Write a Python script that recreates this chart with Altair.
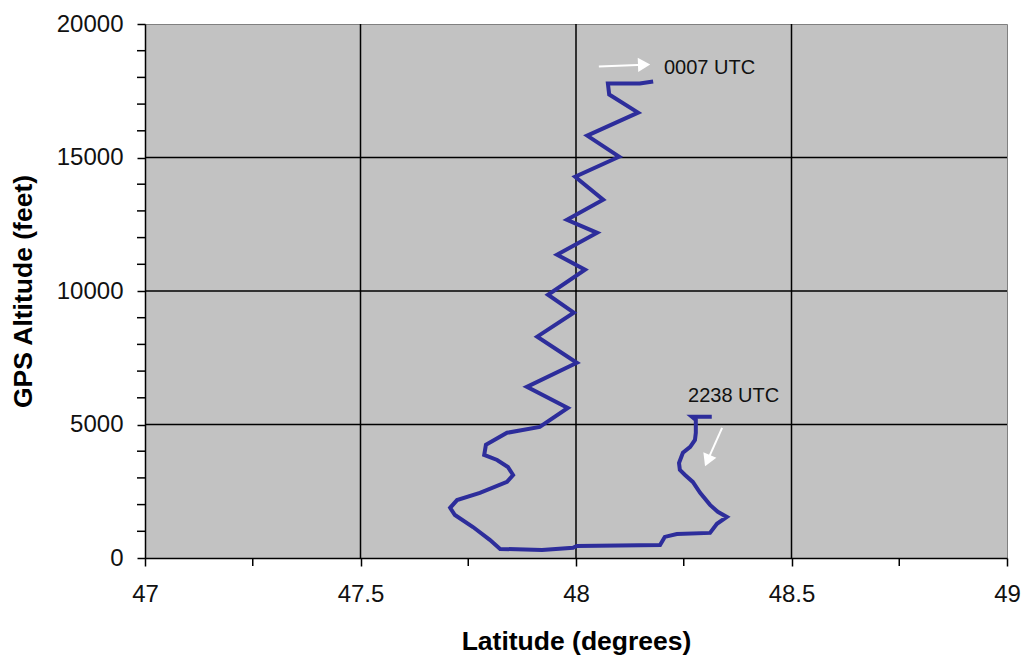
import altair as alt
import pandas as pd

# Flight track, from the 2238 UTC start to the 0007 UTC end
lat = [48.315, 48.269, 48.278, 48.278, 48.276, 48.265, 48.248, 48.239, 48.241,
       48.253, 48.271, 48.288, 48.311, 48.329, 48.350, 48.327, 48.311, 48.234,
       48.206, 48.195, 48.002, 47.993, 47.921, 47.824, 47.800, 47.761, 47.719,
       47.708, 47.724, 47.777, 47.840, 47.854, 47.842, 47.817, 47.787, 47.791,
       47.840, 47.916, 47.981, 47.886, 48.002, 47.910, 47.995, 47.935, 48.021,
       47.956, 48.049, 47.979, 48.063, 47.998, 48.100, 48.026, 48.144, 48.077,
       48.074, 48.148, 48.179]
altitude = [5290, 5290, 5170, 4690, 4420, 4160, 3940, 3560, 3300,
            3110, 2850, 2440, 1990, 1730, 1540, 1280, 940, 900,
            790, 490, 450, 380, 300, 340, 680, 1160, 1610,
            1880, 2170, 2440, 2850, 3110, 3410, 3670, 3860, 4240,
            4690, 4910, 5620, 6410, 7310, 8290, 9190, 9860, 10800,
            11360, 12180, 12670, 13420, 14280, 15030, 15820, 16680, 17360,
            17770, 17770, 17850]

# Labelled axis values, minor tick positions and grid lines
x_major = [47, 47.5, 48, 48.5, 49]
y_major = [0, 5000, 10000, 15000, 20000]
x_minor = [47.25, 47.75, 48.25, 48.75]
y_minor = [1000, 2000, 3000, 4000, 6000, 7000, 8000, 9000,
           11000, 12000, 13000, 14000, 16000, 17000, 18000, 19000]
x_grid = [47.5, 48, 48.5]
y_grid = [5000, 10000, 15000]

# Time labels and their white arrows
label_text = ["0007 UTC", "2238 UTC"]
label_lat = [48.204, 48.260]
label_alt = [18370, 6073]
arrow_lat = [48.053, 48.339]
arrow_alt = [18408, 4874]
arrow_lat2 = [48.158, 48.305]
arrow_alt2 = [18478, 3650]
arrow_angle = [88, 203]

FONT = "Liberation Sans"
TICK = 8

track = pd.DataFrame({"seq": list(range(len(lat))), "lat": lat, "alt": altitude})
labels = pd.DataFrame({"text": label_text, "lat": label_lat, "alt": label_alt})
arrows = pd.DataFrame({"lat": arrow_lat, "alt": arrow_alt,
                       "lat2": arrow_lat2, "alt2": arrow_alt2, "angle": arrow_angle})

xs = alt.Scale(domain=[47, 49], nice=False, zero=False)
ys = alt.Scale(domain=[0, 20000], nice=False)

x_axis = alt.Axis(
    values=x_major, grid=False, title="Latitude (degrees)",
    labelExpr="format(datum.value, '~g')",
    labelFlush=False, labelOverlap=False, labelPadding=16,
    titlePadding=22,
)
y_axis = alt.Axis(
    values=y_major, grid=False, title="GPS Altitude (feet)",
    labelExpr="format(datum.value, 'd')",
    labelFlush=False, labelOverlap=False, labelPadding=14,
    titlePadding=19,
)

base = alt.Chart(track).mark_line(
    color="#2d2d9b", strokeWidth=4, strokeJoin="miter", interpolate="linear"
).encode(
    x=alt.X("lat:Q", scale=xs, axis=x_axis),
    y=alt.Y("alt:Q", scale=ys, axis=y_axis),
    order="seq:Q",
)

vgrid = alt.Chart(pd.DataFrame({"v": x_grid})).mark_rule(
    color="black", strokeWidth=1.5
).encode(x=alt.X("v:Q", scale=xs))
hgrid = alt.Chart(pd.DataFrame({"v": y_grid})).mark_rule(
    color="black", strokeWidth=1.5
).encode(y=alt.Y("v:Q", scale=ys))

# minor ticks, outside the plot area like the major ones
xminor = alt.Chart(pd.DataFrame({"v": x_minor})).mark_rule(
    color="black", strokeWidth=1.5, clip=False
).encode(x=alt.X("v:Q", scale=xs), y=alt.value(534), y2=alt.value(534 + TICK))
yminor = alt.Chart(pd.DataFrame({"v": y_minor})).mark_rule(
    color="black", strokeWidth=1.5, clip=False
).encode(y=alt.Y("v:Q", scale=ys), x=alt.value(-TICK), x2=alt.value(0))

arrow_shaft = alt.Chart(arrows).mark_rule(color="white", strokeWidth=2).encode(
    x=alt.X("lat:Q", scale=xs), y=alt.Y("alt:Q", scale=ys),
    x2="lat2:Q", y2="alt2:Q",
)
arrow_head = alt.Chart(arrows).mark_point(
    shape="triangle-up", filled=True, color="white", opacity=1, size=200
).encode(
    x=alt.X("lat2:Q", scale=xs), y=alt.Y("alt2:Q", scale=ys),
    angle=alt.Angle("angle:Q", scale=None),
)

text = alt.Chart(labels).mark_text(
    align="left", baseline="middle", font=FONT, fontSize=20, color="#111111"
).encode(x=alt.X("lat:Q", scale=xs), y=alt.Y("alt:Q", scale=ys), text="text:N")

chart = alt.layer(
    vgrid, hgrid, xminor, yminor, base, arrow_shaft, arrow_head, text
).properties(
    width=862, height=534,
    autosize="none",
    padding={"left": 145, "top": 24, "right": 14, "bottom": 100},
    background="white",
).configure_view(
    fill="#c2c2c2", stroke="#808080", strokeWidth=1
).configure_axis(
    domainColor="black", domainWidth=1.5,
    tickColor="black", tickWidth=1.5, tickSize=TICK,
    labelFont=FONT, labelFontSize=24, labelColor="#111111",
    titleFont=FONT, titleFontSize=26.5, titleFontWeight="bold", titleColor="#000000",
)

chart.save("out.html", embed_options={"renderer": "svg", "actions": False})
